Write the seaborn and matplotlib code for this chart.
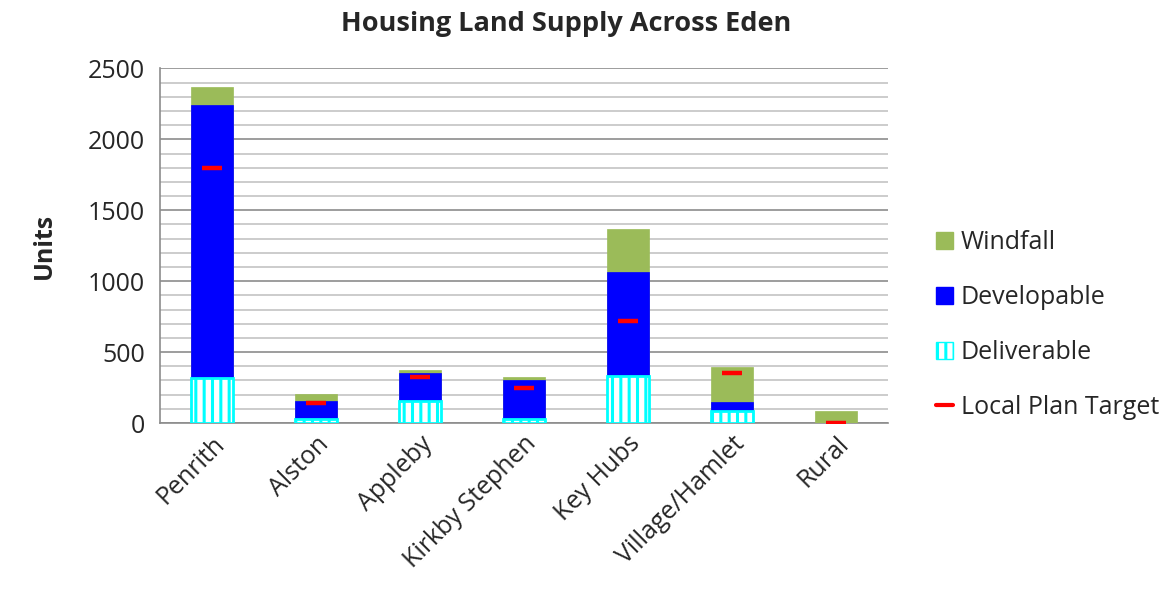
import pandas as pd
import seaborn as sns
import matplotlib.pyplot as plt
from matplotlib.patches import Patch
from matplotlib.lines import Line2D

areas = ['Penrith', 'Alston', 'Appleby', 'Kirkby Stephen', 'Key Hubs', 'Village/Hamlet', 'Rural']
deliverable = [315, 25, 155, 30, 330, 85, 0]
developable = [1925, 132, 200, 270, 737, 62, 0]
windfall = [130, 47, 21, 28, 302, 248, 84]
target = [1800, 143, 325, 250, 718, 356, 0]

df = pd.DataFrame({'area': areas, 'deliverable': deliverable,
                   'developable': developable, 'windfall': windfall, 'target': target})
# stack by drawing cumulative totals back to front
df['dev_top'] = df['deliverable'] + df['developable']
df['wind_top'] = df['dev_top'] + df['windfall']

sns.set_style('white')
plt.rcParams['font.family'] = ['Open Sans', 'DejaVu Sans']
plt.rcParams['hatch.linewidth'] = 2.2

fig = plt.figure(figsize=(11.76, 5.95), dpi=100)
ax = fig.add_axes([0.136, 0.289, 0.619, 0.596])

c_wind = '#9BBB59'
c_dev = '#0000FF'
c_del = '#00FFFF'

sns.barplot(data=df, x='area', y='wind_top', order=areas, color=c_wind, width=0.4,
            saturation=1, edgecolor=c_wind, linewidth=0.5, ax=ax, zorder=3)
sns.barplot(data=df, x='area', y='dev_top', order=areas, color=c_dev, width=0.4,
            saturation=1, edgecolor=c_dev, linewidth=0.5, ax=ax, zorder=3)
sns.barplot(data=df, x='area', y='deliverable', order=areas, color='white', width=0.4,
            saturation=1, edgecolor=c_del, linewidth=2, hatch='||', ax=ax, zorder=3)
# empty bars should not leave an outline behind
for p in ax.patches:
    if p.get_height() == 0:
        p.set_visible(False)
sns.scatterplot(data=df, x='area', y='target', marker='_', s=210, linewidth=3.2,
                color='red', ax=ax, zorder=5, legend=False)

ax.set_ylim(0, 2500)
ax.set_xlim(-0.5, 6.5)
ax.set_yticks(range(0, 2501, 500))
ax.set_yticks(range(0, 2501, 100), minor=True)
ax.yaxis.grid(True, which='major', color='#8c8c8c', linewidth=1.2, zorder=0)
ax.yaxis.grid(True, which='minor', color='#c4c4c4', linewidth=1.2, zorder=0)
ax.set_axisbelow(True)

ax.set_xticks([i - 0.5 for i in range(8)], minor=True)
ax.tick_params(axis='x', which='major', length=0, pad=6, labelsize=18)
ax.tick_params(axis='x', which='minor', length=9, width=1.2, color='#8c8c8c', direction='out')
ax.tick_params(axis='y', which='major', length=6, width=1.2, color='#8c8c8c',
               direction='out', labelsize=18, pad=5)
ax.tick_params(axis='y', which='minor', length=0)
plt.setp(ax.get_xticklabels(), rotation=45, ha='right', rotation_mode='anchor')

for side in ['top', 'right']:
    ax.spines[side].set_visible(False)
for side in ['left', 'bottom']:
    ax.spines[side].set_color('#8c8c8c')
    ax.spines[side].set_linewidth(1.2)

ax.set_xlabel('')
ax.set_ylabel('Units', fontsize=18, fontweight='bold', labelpad=22)
ax.set_title('Housing Land Supply Across Eden', fontsize=19.5, fontweight='bold',
             pad=27, x=0.558)

handles = [
    Patch(facecolor=c_wind, edgecolor=c_wind),
    Patch(facecolor=c_dev, edgecolor=c_dev),
    Patch(facecolor='white', edgecolor=c_del, hatch='||'),
    Line2D([], [], color='red', linewidth=3),
]
ax.legend(handles, ['Windfall', 'Developable', 'Deliverable', 'Local Plan Target'],
          loc='center left', bbox_to_anchor=(1.035, 0.276), frameon=False,
          fontsize=18, handlelength=0.7, handleheight=0.7, handletextpad=0.3,
          labelspacing=1.2)

fig.savefig('out.png', dpi=100)
